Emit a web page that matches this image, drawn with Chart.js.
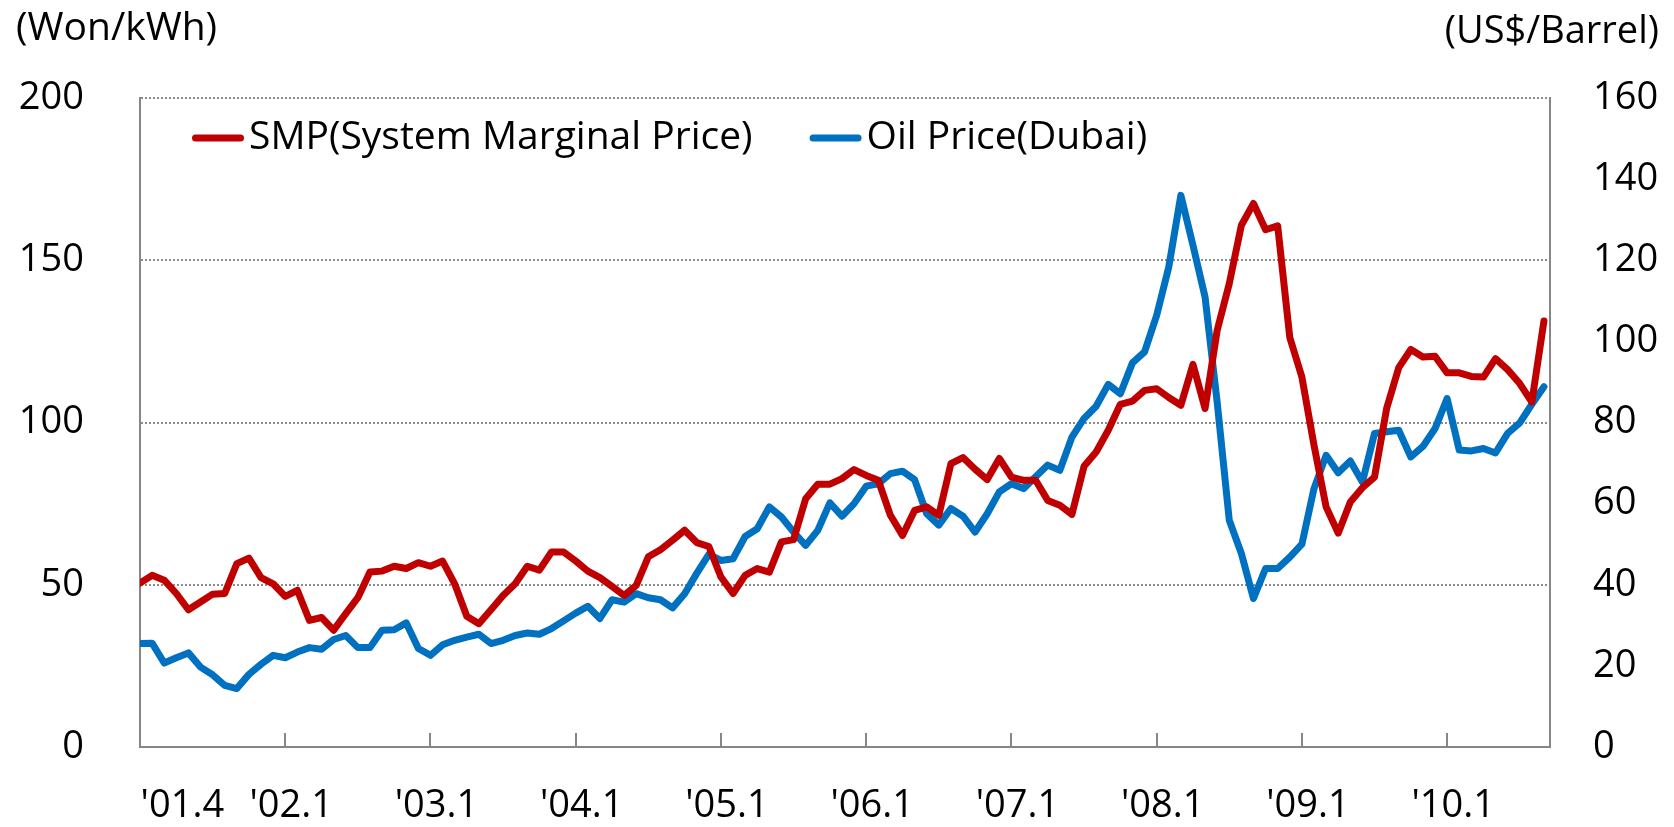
<!DOCTYPE html>
<html>
<head>
<meta charset="utf-8">
<script src="https://cdn.jsdelivr.net/npm/chart.js@4.4.1/dist/chart.umd.min.js"></script>
<style>
  html, body { margin: 0; padding: 0; background: #fff; }
  canvas { display: block; }
</style>
</head>
<body>
<canvas id="chart" width="1674" height="827"></canvas>
<script>
// monthly values, Apr 2001 onwards
const smp = [
  50.5, 52.9, 51.4, 47.3, 42.3, 44.7, 47.1, 47.3, 56.5, 58.2, 52.2, 50.3,
  46.4, 48.3, 39.0, 39.9, 36.0, 41.1, 46.0, 53.9, 54.2, 55.7, 55.0, 56.8,
  55.7, 57.3, 50.3, 40.3, 38.0, 42.3, 46.7, 50.3, 55.7, 54.5, 60.1, 60.1,
  57.3, 54.2, 52.2, 49.5, 46.7, 49.8, 58.6, 60.8, 63.7, 66.8, 63.0, 61.8,
  52.4, 47.3, 52.9, 55.0, 53.9, 63.2, 63.9, 76.5, 81.0, 81.0, 82.7, 85.5,
  83.7, 82.2, 71.4, 65.2, 72.9, 74.0, 71.4, 87.3, 89.2, 85.6, 82.4, 88.9,
  83.2, 82.2, 82.2, 76.0, 74.5, 71.7, 86.5, 90.9, 97.6, 105.6, 106.6, 109.9,
  110.4, 107.7, 105.3, 117.9, 104.3, 128.4, 142.8, 160.8, 167.5, 159.4, 160.6, 126.2,
  114.0, 93.0, 74.0, 65.9, 75.5, 79.9, 83.2, 104.3, 116.9, 122.5, 120.2, 120.4,
  115.3, 115.3, 114.2, 114.0, 119.7, 116.3, 112.0, 106.3, 131.3
];
const oil = [
  25.5, 25.6, 20.7, 22.0, 23.2, 19.7, 17.8, 15.2, 14.4, 17.9, 20.4, 22.6,
  22.0, 23.4, 24.5, 24.1, 26.5, 27.5, 24.5, 24.5, 28.8, 28.9, 30.6, 24.3,
  22.6, 25.2, 26.3, 27.1, 27.8, 25.5, 26.3, 27.5, 28.1, 27.8, 29.2, 31.1,
  33.0, 34.7, 31.7, 36.3, 35.7, 37.8, 36.8, 36.3, 34.3, 37.8, 42.8, 47.5,
  46.0, 46.4, 51.9, 53.8, 59.2, 56.7, 53.0, 49.7, 53.4, 60.2, 56.9, 60.0,
  64.3, 64.9, 67.4, 68.0, 65.9, 57.5, 54.7, 58.8, 56.9, 53.0, 57.5, 62.9,
  64.9, 63.7, 66.6, 69.5, 68.2, 76.4, 81.0, 84.0, 89.4, 87.1, 94.7, 97.4,
  106.4, 118.3, 136.0, 123.7, 110.9, 85.0, 55.9, 47.7, 36.6, 44.0, 44.0, 46.8,
  50.0, 63.7, 71.9, 67.6, 70.5, 65.3, 77.3, 77.7, 78.1, 71.5, 74.1, 78.5,
  85.9, 73.2, 73.0, 73.6, 72.5, 77.3, 79.9, 84.5, 88.8
];
const xTickLabels = ["'01.4", "'02.1", "'03.1", "'04.1", "'05.1", "'06.1", "'07.1", "'08.1", "'09.1", "'10.1"];
const xTickIndex = [3, 12, 24, 36, 48, 60, 72, 84, 96, 108];
const xTickMarks = [12, 24, 36, 48, 60, 72, 84, 96, 108];

const FONT = '"Open Sans", "Noto Sans", sans-serif';
const AXIS_GREY = '#868686';

const tickMarksPlugin = {
  id: 'tickMarks',
  afterDraw(chart) {
    const { ctx, chartArea, scales } = chart;
    ctx.save();
    ctx.strokeStyle = AXIS_GREY;
    ctx.lineWidth = 2;
    xTickMarks.forEach(v => {
      const px = Math.round(scales.x.getPixelForValue(v));
      ctx.beginPath();
      ctx.moveTo(px, chartArea.bottom);
      ctx.lineTo(px, chartArea.bottom - 14);
      ctx.stroke();
    });
    ctx.restore();
  }
};

// legend sits inside the plot, in one row
const insideLegend = {
  id: 'insideLegend',
  afterDatasetsDraw(chart) {
    const { ctx, chartArea } = chart;
    ctx.save();
    ctx.font = '39px ' + FONT;
    ctx.textBaseline = 'middle';
    const y = chartArea.top + 40;
    let x = chartArea.left + 52;
    chart.data.datasets.forEach(ds => {
      ctx.strokeStyle = ds.borderColor;
      ctx.lineWidth = ds.borderWidth;
      ctx.lineCap = 'round';
      ctx.beginPath();
      ctx.moveTo(x + 3.5, y);
      ctx.lineTo(x + 48.5, y);
      ctx.stroke();
      x += 57;
      ctx.fillStyle = '#000';
      ctx.fillText(ds.label, x, y);
      x += ctx.measureText(ds.label).width + 57;
    });
    ctx.restore();
  }
};

const unitLabels = {
  id: 'unitLabels',
  afterDraw(chart) {
    const { ctx } = chart;
    ctx.save();
    ctx.fillStyle = '#000';
    ctx.textBaseline = 'middle';
    ctx.font = '39px ' + FONT;
    ctx.textAlign = 'left';
    ctx.fillText('(Won/kWh)', 16, 29);
    ctx.font = '38px ' + FONT;
    ctx.textAlign = 'right';
    ctx.fillText('(US$/Barrel)', 1659, 32);
    ctx.restore();
  }
};

new Chart(document.getElementById('chart'), {
  type: 'line',
  data: {
    datasets: [
      {
        label: 'SMP(System Marginal Price)',
        data: smp.map((v, i) => ({ x: i, y: v })),
        borderColor: '#C00000',
        borderWidth: 7,
        borderJoinStyle: 'round',
        borderCapStyle: 'round',
        pointRadius: 0,
        yAxisID: 'y'
      },
      {
        label: 'Oil Price(Dubai)',
        data: oil.map((v, i) => ({ x: i, y: v })),
        borderColor: '#0070C0',
        borderWidth: 7,
        borderJoinStyle: 'round',
        borderCapStyle: 'round',
        pointRadius: 0,
        yAxisID: 'y1'
      }
    ]
  },
  options: {
    responsive: false,
    animation: false,
    devicePixelRatio: 1,
    layout: { padding: { top: 98, left: 0, right: 0, bottom: 0 } },
    plugins: {
      legend: { display: false },
      tooltip: { enabled: false }
    },
    scales: {
      x: {
        type: 'linear',
        min: 0,
        max: 116.5,
        afterBuildTicks(scale) {
          scale.ticks = xTickIndex.map(i => ({ value: i + 0.5 }));
        },
        afterFit(scale) { scale.height = 80; },
        grid: { display: false, drawTicks: false },
        border: { display: true, color: AXIS_GREY, width: 2 },
        ticks: {
          autoSkip: false,
          maxRotation: 0,
          padding: 36,
          color: '#000',
          font: { family: FONT, size: 38 },
          callback: (value, index) => xTickLabels[index]
        }
      },
      y: {
        position: 'left',
        min: 0,
        max: 200,
        afterFit(scale) { scale.width = 140; },
        grid: { color: '#8c8c8c', lineWidth: 2, drawTicks: false },
        border: { display: true, color: AXIS_GREY, width: 2, dash: [2, 2] },
        ticks: {
          stepSize: 50,
          padding: 56,
          color: '#000',
          font: { family: FONT, size: 38 }
        }
      },
      y1: {
        position: 'right',
        min: 0,
        max: 160,
        afterFit(scale) { scale.width = 124; },
        grid: { display: false, drawTicks: false },
        border: { display: true, color: AXIS_GREY, width: 2 },
        ticks: {
          stepSize: 20,
          padding: 43,
          color: '#000',
          font: { family: FONT, size: 38 }
        }
      }
    }
  },
  plugins: [tickMarksPlugin, insideLegend, unitLabels]
});
</script>
</body>
</html>
